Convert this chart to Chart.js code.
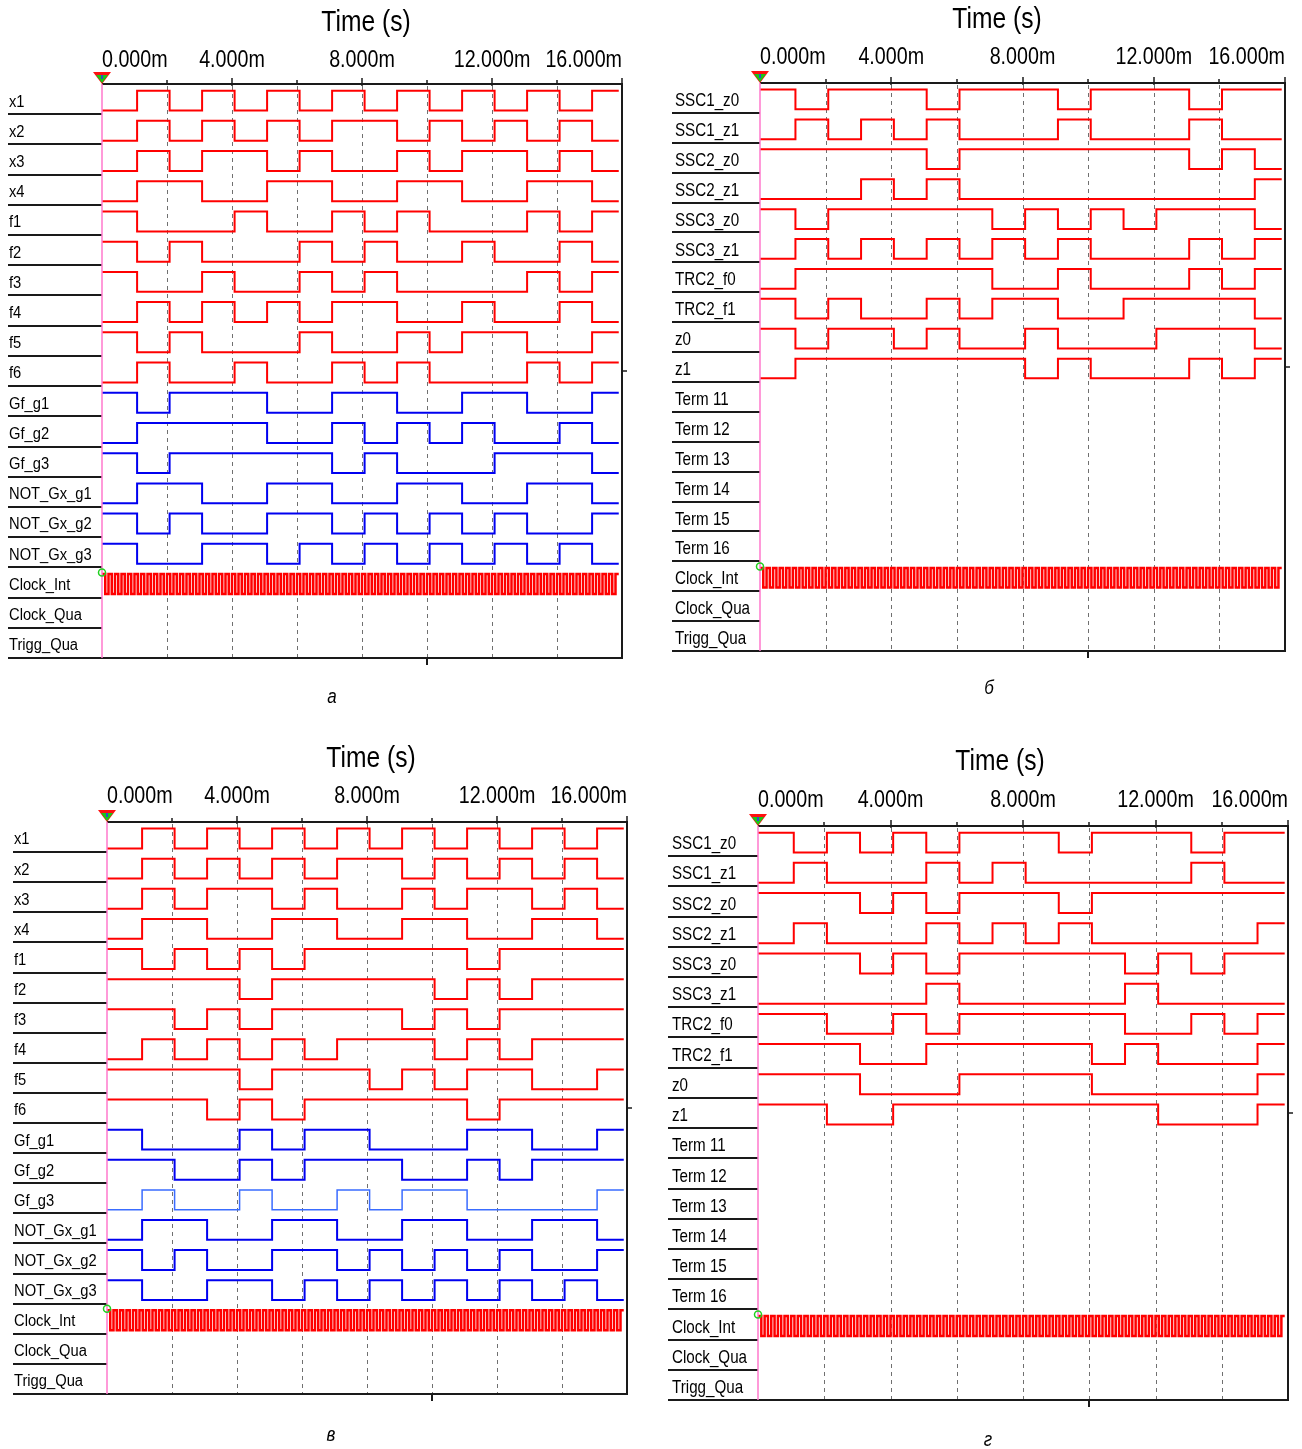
<!DOCTYPE html>
<html>
<head>
<meta charset="utf-8">
<title>Logic analyzer timing diagrams</title>
<script src="https://cdn.jsdelivr.net/npm/chart.js@4.4.1/dist/chart.umd.min.js"></script>
<style>
  html, body { margin: 0; padding: 0; background: #fff; }
  body { width: 1302px; height: 1449px; position: relative; overflow: hidden; }
  canvas { position: absolute; }
</style>
</head>
<body>
<canvas id="pa"></canvas>
<canvas id="pb"></canvas>
<canvas id="pc"></canvas>
<canvas id="pd"></canvas>
<script>
// ---- time base (ms) -------------------------------------------------------
// edges of the 16 logic states; the last value is the end of the capture
const edgesMs = [0, 1.08, 2.08, 3.08, 4.08, 5.08, 6.08, 7.08, 8.08, 9.08,
                 10.08, 11.08, 12.08, 13.08, 14.08, 15.08, 15.9];
const gridMs = [2, 4, 6, 8, 10, 12, 14];
const axisMaxMs = 16;
const tickValuesMs = [0, 4, 8, 12, 16];
const tickLabels = ['0.000m', '4.000m', '8.000m', '12.000m', '16.000m'];
const axisTitle = 'Time (s)';
const bottomTickMs = 10;

// internal clock: one character per half period
const clockHalfPeriodMs = 0.1;
const clockBits =
  '1010101010101010101010101010101010101010' +
  '1010101010101010101010101010101010101010' +
  '1010101010101010101010101010101010101010' +
  '101010101010101010101010101010101010101';

// ---- channel names --------------------------------------------------------
const rowsAC = ['x1', 'x2', 'x3', 'x4', 'f1', 'f2', 'f3', 'f4', 'f5', 'f6',
  'Gf_g1', 'Gf_g2', 'Gf_g3', 'NOT_Gx_g1', 'NOT_Gx_g2', 'NOT_Gx_g3',
  'Clock_Int', 'Clock_Qua', 'Trigg_Qua'];
const rowsBD = ['SSC1_z0', 'SSC1_z1', 'SSC2_z0', 'SSC2_z1', 'SSC3_z0', 'SSC3_z1',
  'TRC2_f0', 'TRC2_f1', 'z0', 'z1', 'Term 11', 'Term 12', 'Term 13', 'Term 14',
  'Term 15', 'Term 16', 'Clock_Int', 'Clock_Qua', 'Trigg_Qua'];

// ---- recorded levels, one character per state (1 = high) -------------------
const wavesA = [
  '0101010101010101', '0101010110101010', '0101101001011010', '0110011001100110',
  '1000100101000101', '1010001010010010', '1001001010000101', '0101010110010010',
  '1010001001011001', '0100100101000101',
  '1011100110011001', '0111100101010010', '1011111010001110',
  '0110011001100110', '1010011010101001', '1001101010101010'
];
const wavesB = [
  '1011101110111011', '0101010001000100', '1111101111111010', '0001010000000001',
  '1011111010101110', '0101010101000101', '0111111001000101', '1010010110011110',
  '1011010010001110', '0111111101000101',
  null, null, null, null, null, null
];
const wavesC = [
  '0101010101010101', '0101010110101010', '0101101001011010', '0110011001100110',
  '1010101111101111', '1111011111010111', '1101011110101111', '0101010111010111',
  '1111011101011001', '1110101111101111',
  '1000101100011001', '1100101110010111', '0100100101100001',
  '0110011001100110', '1010011010101001', '1001101010101010'
];
const wavesD = [
  '1010101110111011', '0100010100000100', '1110101110111111', '0100010101000001',
  '1110101111101011', '0000010000010000', '1100101111100101', '1110011111010001',
  '1110001111000001', '1100111111110001',
  null, null, null, null, null, null
];
const clockRow = 16;

// ---- styling --------------------------------------------------------------
const RED = '#ff0000', BLUE = '#0000f0', LIGHTBLUE = '#3a6cff';
const redRows = Array(16).fill(RED);
const mixedRows = [RED, RED, RED, RED, RED, RED, RED, RED, RED, RED,
                   BLUE, BLUE, BLUE, BLUE, BLUE, BLUE];
const mixedRowsC = mixedRows.slice(); mixedRowsC[12] = LIGHTBLUE;
const widthsC = Array(16).fill(2); widthsC[12] = 1.5;
const HIGH = 0.22, LOW = 0.88;   // level positions inside a row (row units)

const panels = [
  { id: 'pa', box: [0, 0, 651, 724], plot: [102, 84, 622, 658], labelLeft: 8, labelX: 9,
    labelFont: 16, labelSx: 0.92, rows: rowsAC, waves: wavesA, colors: mixedRows,
    widths: Array(16).fill(2), title: [366, 23], tickY: 60, caption: 'а', cap: [332, 697] },
  { id: 'pb', box: [651, 0, 651, 724], plot: [760, 83, 1285, 651], labelLeft: 672, labelX: 675,
    labelFont: 18.5, labelSx: 0.82, rows: rowsBD, waves: wavesB, colors: redRows,
    widths: Array(16).fill(2), title: [997, 20], tickY: 57, caption: 'б', cap: [989, 688] },
  { id: 'pc', box: [0, 724, 651, 725], plot: [107, 822, 627, 1394], labelLeft: 13, labelX: 14,
    labelFont: 16, labelSx: 0.92, rows: rowsAC, waves: wavesC, colors: mixedRowsC,
    widths: widthsC, title: [371, 759], tickY: 796, caption: 'в', cap: [331, 1435] },
  { id: 'pd', box: [651, 724, 651, 725], plot: [758, 826, 1288, 1400], labelLeft: 668, labelX: 672,
    labelFont: 18.5, labelSx: 0.82, rows: rowsBD, waves: wavesD, colors: redRows,
    widths: Array(16).fill(2), title: [1000, 762], tickY: 800, caption: 'г', cap: [988, 1440] }
];

// ---- helpers --------------------------------------------------------------
function stepPoints(bits, edges, row) {
  const pts = [];
  for (let i = 0; i < bits.length; i++) {
    pts.push({ x: edges[i], y: row + (bits[i] === '1' ? HIGH : LOW) });
  }
  const last = bits[bits.length - 1];
  pts.push({ x: edges[bits.length], y: row + (last === '1' ? HIGH : LOW) });
  return pts;
}
function clockEdges(bits, half) {
  const e = [];
  for (let i = 0; i <= bits.length; i++) e.push(i * half);
  return e;
}
function text(ctx, s, x, y, size, align, sx, style) {
  ctx.save();
  ctx.translate(x, y);
  ctx.scale(sx, 1);
  ctx.font = (style ? style + ' ' : '') + size + 'px "Liberation Sans", Arial, sans-serif';
  ctx.textAlign = align;
  ctx.textBaseline = 'middle';
  ctx.fillStyle = '#000';
  ctx.fillText(s, 0, 0);
  ctx.restore();
}
function line(ctx, x1, y1, x2, y2, w, c) {
  ctx.beginPath();
  ctx.lineWidth = w;
  ctx.strokeStyle = c;
  ctx.moveTo(x1, y1);
  ctx.lineTo(x2, y2);
  ctx.stroke();
}

function framePlugin(p) {
  const ox = p.box[0], oy = p.box[1];
  return {
    id: 'logicFrame',
    beforeDatasetsDraw(chart) {
      const ctx = chart.ctx, xs = chart.scales.x, ys = chart.scales.y;
      const top = ys.getPixelForValue(0), bot = ys.getPixelForValue(19);
      ctx.save();
      ctx.setLineDash([4, 4]);
      gridMs.forEach(t => {
        const x = Math.round(xs.getPixelForValue(t)) + 0.5;
        line(ctx, x, top + 2, x, bot, 1, '#707070');
      });
      ctx.restore();
    },
    afterDatasetsDraw(chart) {
      const ctx = chart.ctx, xs = chart.scales.x, ys = chart.scales.y;
      const x0 = xs.getPixelForValue(0), x16 = xs.getPixelForValue(axisMaxMs);
      const top = ys.getPixelForValue(0), bot = ys.getPixelForValue(19);
      const lblL = p.labelLeft - ox;
      ctx.save();
      ctx.setLineDash([]);
      ctx.lineCap = 'butt';

      // channel names and row separators
      p.rows.forEach((name, r) => {
        const yc = (ys.getPixelForValue(r) + ys.getPixelForValue(r + 1)) / 2 + 3;
        text(ctx, name, p.labelX - ox, yc, p.labelFont, 'left', p.labelSx);
        const yb = Math.round(ys.getPixelForValue(r + 1));
        line(ctx, lblL, yb, x0, yb, 2, '#1a1a1a');
      });

      // frame: top time axis, right edge, bottom edge
      line(ctx, x0, top, x16 + 1, top, 2, '#1a1a1a');
      line(ctx, x16, top, x16, bot + 1, 2, '#1a1a1a');
      line(ctx, lblL, bot, x16 + 1, bot, 2, '#1a1a1a');
      for (let t = 2; t <= axisMaxMs; t += 2) {
        const x = Math.round(xs.getPixelForValue(t));
        const major = tickValuesMs.includes(t);
        line(ctx, x, top - (major ? 6 : 4), x, top + (major ? 2 : 0), 1.5, '#1a1a1a');
      }
      const xm = Math.round(xs.getPixelForValue(bottomTickMs));
      line(ctx, xm, bot, xm, bot + 7, 2, '#1a1a1a');
      const ymid = Math.round(ys.getPixelForValue(9.5));
      line(ctx, x16, ymid, x16 + 5, ymid, 1.5, '#1a1a1a');

      // cursor line at t = 0
      line(ctx, x0, top, x0, bot, 1.5, '#ff78cc');

      // trigger marker
      ctx.beginPath();
      ctx.moveTo(x0 - 9, top - 12); ctx.lineTo(x0 + 9, top - 12); ctx.lineTo(x0, top);
      ctx.closePath(); ctx.fillStyle = '#ff1010'; ctx.fill();
      ctx.beginPath();
      ctx.moveTo(x0 - 6, top - 9); ctx.lineTo(x0 + 6, top - 9); ctx.lineTo(x0, top - 1);
      ctx.closePath(); ctx.fillStyle = '#18c818'; ctx.fill();
      ctx.fillStyle = '#3050c0';
      ctx.fillRect(x0 - 1, top - 9, 2, 4);

      // clock start marker
      ctx.beginPath();
      ctx.arc(x0, ys.getPixelForValue(clockRow + 0.17), 3.5, 0, Math.PI * 2);
      ctx.lineWidth = 1.5; ctx.strokeStyle = '#20d020'; ctx.stroke();

      // axis title and time labels
      text(ctx, axisTitle, p.title[0] - ox, p.title[1] - oy, 30, 'center', 0.82);
      tickValuesMs.forEach((t, i) => {
        const align = i === 0 ? 'left' : (i === tickValuesMs.length - 1 ? 'right' : 'center');
        text(ctx, tickLabels[i], xs.getPixelForValue(t), p.tickY - oy, 24, align, 0.82);
      });

      // panel caption
      text(ctx, p.caption, p.cap[0] - ox, p.cap[1] - oy, 20, 'center', 0.85, 'italic');
      ctx.restore();
    }
  };
}

// ---- charts ---------------------------------------------------------------
panels.forEach(p => {
  const cv = document.getElementById(p.id);
  const [bx, by, bw, bh] = p.box;
  cv.width = bw; cv.height = bh;
  cv.style.left = bx + 'px'; cv.style.top = by + 'px';
  cv.style.width = bw + 'px'; cv.style.height = bh + 'px';

  const datasets = [];
  p.waves.forEach((bits, r) => {
    if (!bits) return;
    datasets.push({
      data: stepPoints(bits, edgesMs, r),
      borderColor: p.colors[r], borderWidth: p.widths[r]
    });
  });
  datasets.push({
    data: stepPoints(clockBits, clockEdges(clockBits, clockHalfPeriodMs), clockRow),
    borderColor: RED, borderWidth: 2.5
  });
  datasets.forEach(d => Object.assign(d, {
    stepped: 'before', pointRadius: 0, fill: false, tension: 0,
    borderJoinStyle: 'miter', borderCapStyle: 'butt'
  }));

  new Chart(cv, {
    type: 'line',
    data: { datasets },
    options: {
      responsive: false,
      animation: false,
      events: [],
      devicePixelRatio: 1,
      layout: {
        padding: {
          left: p.plot[0] - bx,
          top: p.plot[1] - by,
          right: bx + bw - p.plot[2],
          bottom: by + bh - p.plot[3]
        }
      },
      scales: {
        x: { type: 'linear', min: 0, max: axisMaxMs, display: false },
        y: { type: 'linear', min: 0, max: 19, reverse: true, display: false }
      },
      plugins: { legend: { display: false }, tooltip: { enabled: false } }
    },
    plugins: [framePlugin(p)]
  });
});
</script>
</body>
</html>
